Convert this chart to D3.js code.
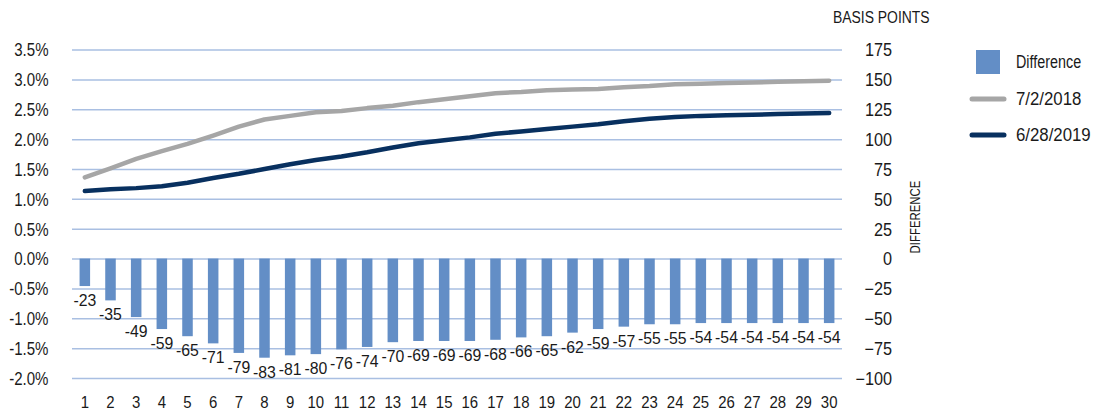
<!DOCTYPE html>
<html>
<head>
<meta charset="utf-8">
<script src="https://cdn.jsdelivr.net/npm/d3@7"></script>
<style>
  html, body { margin: 0; padding: 0; background: #fff; }
  svg { display: block; }
  text { font-family: "Liberation Sans", Arial, sans-serif; fill: #1a1a1a; }
</style>
</head>
<body>
<svg id="chart" width="1093" height="415"></svg>
<script>
// Maturity in years
const tenors = [1,2,3,4,5,6,7,8,9,10,11,12,13,14,15,16,17,18,19,20,21,22,23,24,25,26,27,28,29,30];

// Yield curves (percent)
const yield2018 = [1.36,1.51,1.67,1.80,1.92,2.06,2.21,2.33,2.39,2.45,2.47,2.52,2.56,2.62,2.67,2.72,2.77,2.79,2.82,2.83,2.84,2.87,2.89,2.92,2.93,2.94,2.95,2.96,2.97,2.98];
const yield2019 = [1.13,1.16,1.18,1.21,1.27,1.35,1.42,1.50,1.58,1.65,1.71,1.78,1.86,1.93,1.98,2.03,2.09,2.13,2.17,2.21,2.25,2.30,2.34,2.37,2.39,2.40,2.41,2.42,2.43,2.44];

// Change between the two curves (basis points)
const difference = [-23,-35,-49,-59,-65,-71,-79,-83,-81,-80,-76,-74,-70,-69,-69,-69,-68,-66,-65,-62,-59,-57,-55,-55,-54,-54,-54,-54,-54,-54];

const leftTicks = [-2.0,-1.5,-1.0,-0.5,0.0,0.5,1.0,1.5,2.0,2.5,3.0,3.5];
const rightTicks = [-100,-75,-50,-25,0,25,50,75,100,125,150,175];

const seriesNames = ["Difference", "7/2/2018", "6/28/2019"];
const colors = { bar: "#638ec6", y2018: "#a6a6a6", y2019: "#08305f", grid: "#a9bfe2" };

const svg = d3.select("#chart");
const plotLeft = 72, plotRight = 842, plotTop = 49.6, plotBottom = 378;

// Squeeze glyphs horizontally about each text's anchor point for a narrow face
function condense(sel, factor) {
  sel.each(function () {
    const t = d3.select(this);
    const x0 = +t.attr("x") || 0;
    const prev = t.attr("transform") || "";
    t.attr("transform", `${prev} translate(${x0},0) scale(${factor},1) translate(${-x0},0)`);
  });
}

const x = d3.scaleBand().domain(tenors).range([plotLeft, plotRight]).paddingInner(0.59).paddingOuter(0.295);
const yL = d3.scaleLinear().domain([-2.0, 3.5]).range([plotBottom, plotTop]);
const yR = d3.scaleLinear().domain([-100, 175]).range([plotBottom, plotTop]);
const cx = d => x(d) + x.bandwidth() / 2;

// Horizontal gridlines
const grid = svg.append("g").attr("transform", `translate(${plotLeft},0)`)
  .call(d3.axisRight(yL).tickValues(leftTicks).tickSize(plotRight - plotLeft).tickFormat(""));
grid.select(".domain").remove();
grid.selectAll("line").attr("stroke", colors.grid).attr("stroke-width", 1.5);

// Left axis (percent)
const gl = svg.append("g").attr("transform", `translate(${plotLeft},0)`)
  .call(d3.axisLeft(yL).tickValues(leftTicks).tickSize(0).tickPadding(23.5)
    .tickFormat(d => d.toFixed(1) + "%"));
gl.select(".domain").remove();
gl.selectAll("text").style("font-size", "17.5px").attr("dy", "0.36em").call(condense, 0.86);

// Right axis (basis points)
const gr = svg.append("g").attr("transform", `translate(${plotRight},0)`)
  .call(d3.axisRight(yR).tickValues(rightTicks).tickSize(0).tickFormat(d3.format("d")));
gr.select(".domain").remove();
gr.selectAll("text").style("font-size", "17.5px").attr("text-anchor", "end").attr("x", 50).attr("dy", "0.36em").call(condense, 0.93);

// Bottom axis (tenor)
const gb = svg.append("g").attr("transform", `translate(0,${plotBottom})`)
  .call(d3.axisBottom(x).tickSize(0).tickPadding(18));
gb.select(".domain").remove();
gb.selectAll("text").style("font-size", "17px").call(condense, 0.88);

// Difference bars
svg.append("g").selectAll("rect").data(tenors).join("rect")
  .attr("x", d => x(d))
  .attr("width", x.bandwidth())
  .attr("y", (d, i) => Math.min(yR(0), yR(difference[i])))
  .attr("height", (d, i) => Math.abs(yR(difference[i]) - yR(0)))
  .attr("fill", colors.bar);

// Bar value labels
svg.append("g").selectAll("text").data(tenors).join("text")
  .attr("x", d => cx(d))
  .attr("y", (d, i) => yR(difference[i]) + 20)
  .attr("text-anchor", "middle")
  .style("font-size", "17px")
  .text((d, i) => difference[i])
  .call(condense, 0.93);

// Yield curves
const line = vals => d3.line().x((d, i) => cx(tenors[i])).y(d => yL(d))(vals);
svg.append("path").attr("d", line(yield2018)).attr("fill", "none")
  .attr("stroke", colors.y2018).attr("stroke-width", 4.5).attr("stroke-linecap", "round").attr("stroke-linejoin", "round");
svg.append("path").attr("d", line(yield2019)).attr("fill", "none")
  .attr("stroke", colors.y2019).attr("stroke-width", 4.5).attr("stroke-linecap", "round").attr("stroke-linejoin", "round");

// Axis titles
svg.append("text").attr("x", 833).attr("y", 23).style("font-size", "16px").text("BASIS POINTS").call(condense, 0.87);
svg.append("text").attr("transform", "translate(919.5,217) rotate(-90)")
  .attr("text-anchor", "middle").style("font-size", "15px").text("DIFFERENCE").call(condense, 0.76);

// Legend
const lg = svg.append("g");
lg.append("rect").attr("x", 976).attr("y", 50).attr("width", 24).attr("height", 24).attr("fill", colors.bar);
lg.append("line").attr("x1", 972).attr("x2", 1004).attr("y1", 99).attr("y2", 99)
  .attr("stroke", colors.y2018).attr("stroke-width", 5).attr("stroke-linecap", "round");
lg.append("line").attr("x1", 972).attr("x2", 1004).attr("y1", 135).attr("y2", 135)
  .attr("stroke", colors.y2019).attr("stroke-width", 5).attr("stroke-linecap", "round");
const legendSqueeze = [0.82, 0.96, 0.96];
[62, 99, 135].forEach((yy, i) => {
  lg.append("text").attr("x", 1016).attr("y", yy).attr("dy", "0.36em")
    .style("font-size", "17.5px").text(seriesNames[i]).call(condense, legendSqueeze[i]);
});
</script>
</body>
</html>
